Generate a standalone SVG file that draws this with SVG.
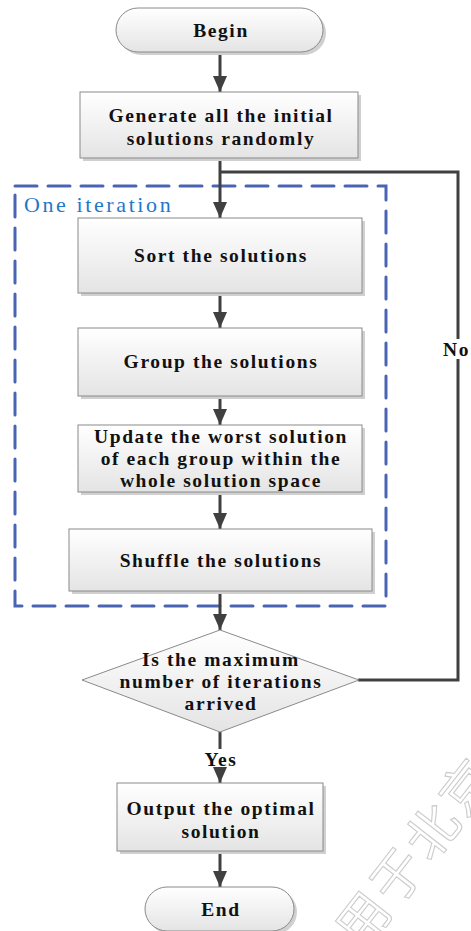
<svg xmlns="http://www.w3.org/2000/svg" width="471" height="931" viewBox="0 0 471 931">
  <defs>
    <linearGradient id="boxFill" x1="0" y1="0" x2="0" y2="1">
      <stop offset="0" stop-color="#ffffff"/>
      <stop offset="1" stop-color="#e4e4e4"/>
    </linearGradient>
    <marker id="arrow" viewBox="0 0 16 14" refX="16" refY="7" markerWidth="16" markerHeight="14" markerUnits="userSpaceOnUse" orient="auto">
      <path d="M0,0 L16,7 L0,14 Z" fill="#404040"/>
    </marker>
  </defs>
  <style>
    .box { fill: url(#boxFill); stroke: #8a8a8a; stroke-width: 1; }
    .shadow { fill: #d0d0d0; }
    .lbl { font-family: "Liberation Serif", "Times New Roman", serif; font-weight: bold; font-size: 19.5px; letter-spacing: 1.6px; fill: #111; text-anchor: middle; }
    .conn { stroke: #404040; stroke-width: 3; fill: none; }
    .iter { fill: none; stroke: #4a64b4; stroke-width: 3; stroke-dasharray: 22 11; stroke-linecap: round; }
  </style>
  <rect width="471" height="931" fill="#ffffff"/>

  <!-- watermark -->
  <text x="0" y="0" transform="translate(362,952) rotate(-52)" font-family="Noto Sans CJK SC, sans-serif" font-size="52" fill="none" stroke="#cccccc" stroke-width="1.1" letter-spacing="4">用于北京</text>

  <!-- iteration frame -->
  <g id="iteration">
    <rect class="iter" x="15" y="186" width="371" height="420"/>
    <text x="24" y="212" font-family="Liberation Serif, Times New Roman, serif" font-size="22" letter-spacing="2.6" fill="#1f78c8">One iteration</text>
  </g>

  <!-- connectors -->
  <g id="connectors">
    <line class="conn" x1="220" y1="52" x2="220" y2="92" marker-end="url(#arrow)"/>
    <line class="conn" x1="220" y1="158" x2="220" y2="218" marker-end="url(#arrow)"/>
    <line class="conn" x1="220" y1="293" x2="220" y2="328" marker-end="url(#arrow)"/>
    <line class="conn" x1="220" y1="396" x2="220" y2="425" marker-end="url(#arrow)"/>
    <line class="conn" x1="220" y1="492" x2="220" y2="529" marker-end="url(#arrow)"/>
    <line class="conn" x1="220" y1="591" x2="220" y2="630" marker-end="url(#arrow)"/>
    <line class="conn" x1="220" y1="732" x2="220" y2="749"/>
    <line class="conn" x1="220" y1="770" x2="220" y2="783" marker-end="url(#arrow)"/>
    <line class="conn" x1="220" y1="851" x2="220" y2="887" marker-end="url(#arrow)"/>
    <polyline class="conn" stroke-width="2.5" points="358,680 458,680 458,172 220,172"/>
    <rect x="440" y="339" width="31" height="20" fill="#ffffff"/>
    <text class="lbl" x="443" y="356" style="text-anchor:start">No</text>
    <text class="lbl" x="221" y="766">Yes</text>
  </g>

  <g id="begin">
    <rect class="shadow" x="119" y="11" width="207" height="44" rx="22"/>
    <rect class="box" x="116" y="8" width="207" height="44" rx="22"/>
    <text class="lbl" x="221" y="37">Begin</text>
  </g>

  <g id="generate">
    <rect class="shadow" x="83" y="95" width="278" height="66"/>
    <rect class="box" x="80" y="92" width="278" height="66"/>
    <text class="lbl" x="221" y="122">Generate all the initial</text>
    <text class="lbl" x="221" y="145">solutions randomly</text>
  </g>

  <g id="sort">
    <rect class="shadow" x="81" y="221" width="284" height="75"/>
    <rect class="box" x="78" y="218" width="284" height="75"/>
    <text class="lbl" x="221" y="262">Sort the solutions</text>
  </g>

  <g id="group">
    <rect class="shadow" x="81" y="331" width="284" height="68"/>
    <rect class="box" x="78" y="328" width="284" height="68"/>
    <text class="lbl" x="221" y="368">Group the solutions</text>
  </g>

  <g id="update">
    <rect class="shadow" x="81" y="428" width="284" height="67"/>
    <rect class="box" x="78" y="425" width="284" height="67"/>
    <text class="lbl" x="221" y="443">Update the worst solution</text>
    <text class="lbl" x="221" y="465">of each group within the</text>
    <text class="lbl" x="221" y="487">whole solution space</text>
  </g>

  <g id="shuffle">
    <rect class="shadow" x="72" y="532" width="303" height="62"/>
    <rect class="box" x="69" y="529" width="303" height="62"/>
    <text class="lbl" x="221" y="567">Shuffle the solutions</text>
  </g>

  <g id="decision">
    <polygon class="box" points="220,630 359,680 220,732 82,680"/>
    <text class="lbl" x="221" y="666">Is the maximum</text>
    <text class="lbl" x="221" y="688">number of iterations</text>
    <text class="lbl" x="221" y="710">arrived</text>
  </g>

  <g id="output">
    <rect class="shadow" x="120" y="786" width="206" height="68"/>
    <rect class="box" x="117" y="783" width="206" height="68"/>
    <text class="lbl" x="221" y="815">Output the optimal</text>
    <text class="lbl" x="221" y="838">solution</text>
  </g>

  <g id="end">
    <rect class="shadow" x="148" y="890" width="149" height="44" rx="22"/>
    <rect class="box" x="145" y="887" width="149" height="44" rx="22"/>
    <text class="lbl" x="221" y="916">End</text>
  </g>
</svg>
